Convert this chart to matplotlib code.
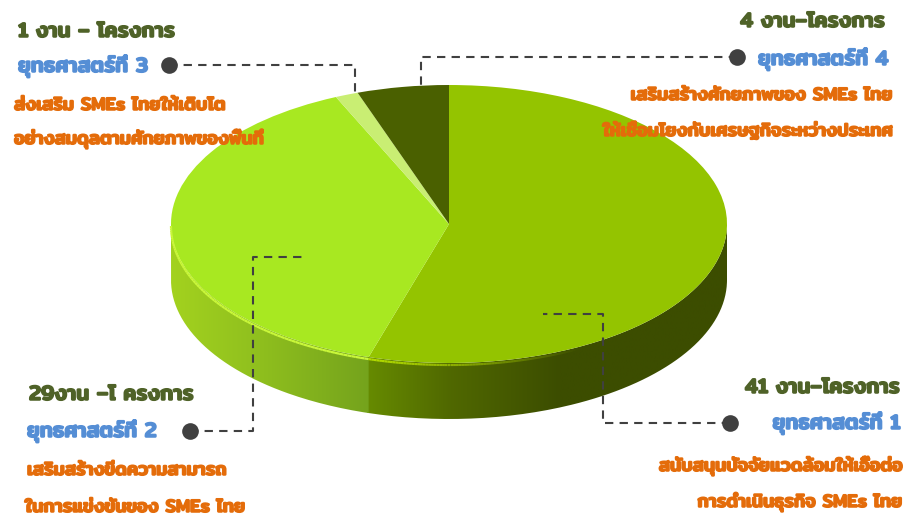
import numpy as np
import matplotlib
matplotlib.use("Agg")
import matplotlib.pyplot as plt
import matplotlib.patheffects as pe
from matplotlib.collections import LineCollection
from matplotlib.colors import LinearSegmentedColormap, to_rgb
from matplotlib.patches import PathPatch
from matplotlib.path import Path

W, H = 915, 517
CX, CY = 449, 224   # pie centre in px
RX, RY = 278, 139
DEPTH = 56

# projects per strategy, clockwise from 12 o'clock
strategies = ["ยุทธศาสตร์ที่ 1", "ยุทธศาสตร์ที่ 2", "ยุทธศาสตร์ที่ 3", "ยุทธศาสตร์ที่ 4"]
values = [41, 29, 1, 4]
counts = ["41 งาน–โครงการ", "29งาน –โ ครงการ", "1 งาน – โครงการ", "4 งาน–โครงการ"]
desc_1 = ["สนับสนุนปัจจัยแวดล้อมให้เอื้อต่อ", "เสริมสร้างขีดความสามารถ",
          "ส่งเสริม SMEs ไทยให้เติบโต", "เสริมสร้างศักยภาพของ SMEs ไทย"]
desc_2 = ["การดำเนินธุรกิจ SMEs ไทย", "ในการแข่งขันของ SMEs ไทย",
          "อย่างสมดุลตามศักยภาพของพื้นที่", "ให้เชื่อมโยงกับเศรษฐกิจระหว่างประเทศ"]

TOP_COLORS = ["#94c400", "#a8e821", "#c9ee73", "#4a6000"]
GREEN, BLUE, ORANGE = "#4f6228", "#558ed5", "#e46c0a"
DARK = "#404040"

FONT = ["Mitr", "Kanit", "DejaVu Sans"]

# baseline px per slice: count, strategy, two description lines
LABELS = [
    ("right", [(900, 393), (900, 429), (902, 471), (902, 507)]),
    ("left", [(29, 400), (27, 437), (27, 475), (25, 512)]),
    ("left", [(18, 37), (18, 72), (14, 110), (14, 144)]),
    ("right", [(885, 27), (888, 65), (892, 100), (892, 136)]),
]
LEADERS = [
    [(730, 423), (603, 423), (603, 314), (543, 314)],
    [(190, 431), (253, 431), (253, 257), (305, 257)],
    [(169, 65), (355, 65), (355, 92)],
    [(737, 57), (421, 57), (421, 85)],
]
# colour stops along x for the side wall of slices 1 and 2
WALL_STOPS = [
    [(360, "#688e00"), (450, "#506800"), (560, "#3c4d00"), (727, "#3c4d00")],
    [(171, "#a3d21f"), (260, "#8fbf1e"), (380, "#72a01c")],
]


def draw_wall(ax, t0, t1, stops):
    t = np.radians(np.linspace(t0, t1, 120))
    x, y = np.sin(t), np.cos(t)
    xs, ys = np.r_[x, x[::-1]], np.r_[y, y[::-1] - DEPTH / RY]
    patch = PathPatch(Path(np.c_[xs, ys]), fc="none", ec="none", zorder=1)
    ax.add_patch(patch)
    x0, x1 = stops[0][0], stops[-1][0]
    pos = [(s[0] - x0) / (x1 - x0) for s in stops]
    cmap = LinearSegmentedColormap.from_list("wall", list(zip(pos, [s[1] for s in stops])))
    grad = np.linspace(0, 1, 256).reshape(1, -1)
    im = ax.imshow(grad, cmap=cmap, aspect="auto", zorder=1, interpolation="bilinear",
                   extent=[(x0 - CX) / RX, (x1 - CX) / RX, -1.6, 1.0])
    im.set_clip_path(patch)


def draw_rim(ax, t0, t1, color, a0=1.0, a1=1.0):
    # lighter rim along the top edge of the wall, optionally fading out
    t = np.radians(np.linspace(t0, t1, 80))
    pts = np.c_[np.sin(t), np.cos(t) - 2 / RY].reshape(-1, 1, 2)
    segs = np.concatenate([pts[:-1], pts[1:]], axis=1)
    alphas = np.linspace(a0, a1, len(segs))
    colors = [(*to_rgb(color), a) for a in alphas]
    ax.add_collection(LineCollection(segs, colors=colors, linewidths=1.6, zorder=3))


fig = plt.figure(figsize=(W / 100, H / 100), dpi=100, facecolor="white")
ax = fig.add_axes([0, 0, 1, 1])
ax.pie(values, colors=TOP_COLORS, startangle=90, counterclock=False, radius=1,
       wedgeprops={"linewidth": 0, "zorder": 2})

edges = np.cumsum([0] + values) / sum(values) * 360
draw_wall(ax, edges[0] + 90, edges[1] + 0.3, WALL_STOPS[0])
draw_wall(ax, edges[1], min(edges[2], 270), WALL_STOPS[1])
draw_rim(ax, edges[1], 270, "#c9f73a")
draw_rim(ax, edges[1], edges[1] - 45, "#b4dc00", 1.0, 0.0)

ax.set_aspect("auto")
ax.set_xlim(-CX / RX, (W - CX) / RX)
ax.set_ylim((CY - H) / RY, CY / RY)
ax.axis("off")

over = fig.add_axes([0, 0, 1, 1], facecolor="none")
over.set_xlim(0, W)
over.set_ylim(H, 0)
over.axis("off")

for pts in LEADERS:
    xs, ys = zip(*pts)
    over.plot(xs, ys, color=DARK, lw=1.5, dashes=(4.0, 3.0))
    over.plot(xs[0], ys[0], "o", ms=12, color=DARK, mec="none")

for i, (ha, pos) in enumerate(LABELS):
    lines = [counts[i], strategies[i], desc_1[i], desc_2[i]]
    colors = [GREEN, BLUE, ORANGE, ORANGE]
    sizes = [15, 15, 13, 13]
    for (x, y), txt, c, fs in zip(pos, lines, colors, sizes):
        over.text(x, y, txt, ha=ha, va="baseline", color=c, fontsize=fs, family=FONT,
                  weight="medium",
                  path_effects=[pe.withStroke(linewidth=1.1, foreground=c)])

fig.savefig("out.png", dpi=100)
